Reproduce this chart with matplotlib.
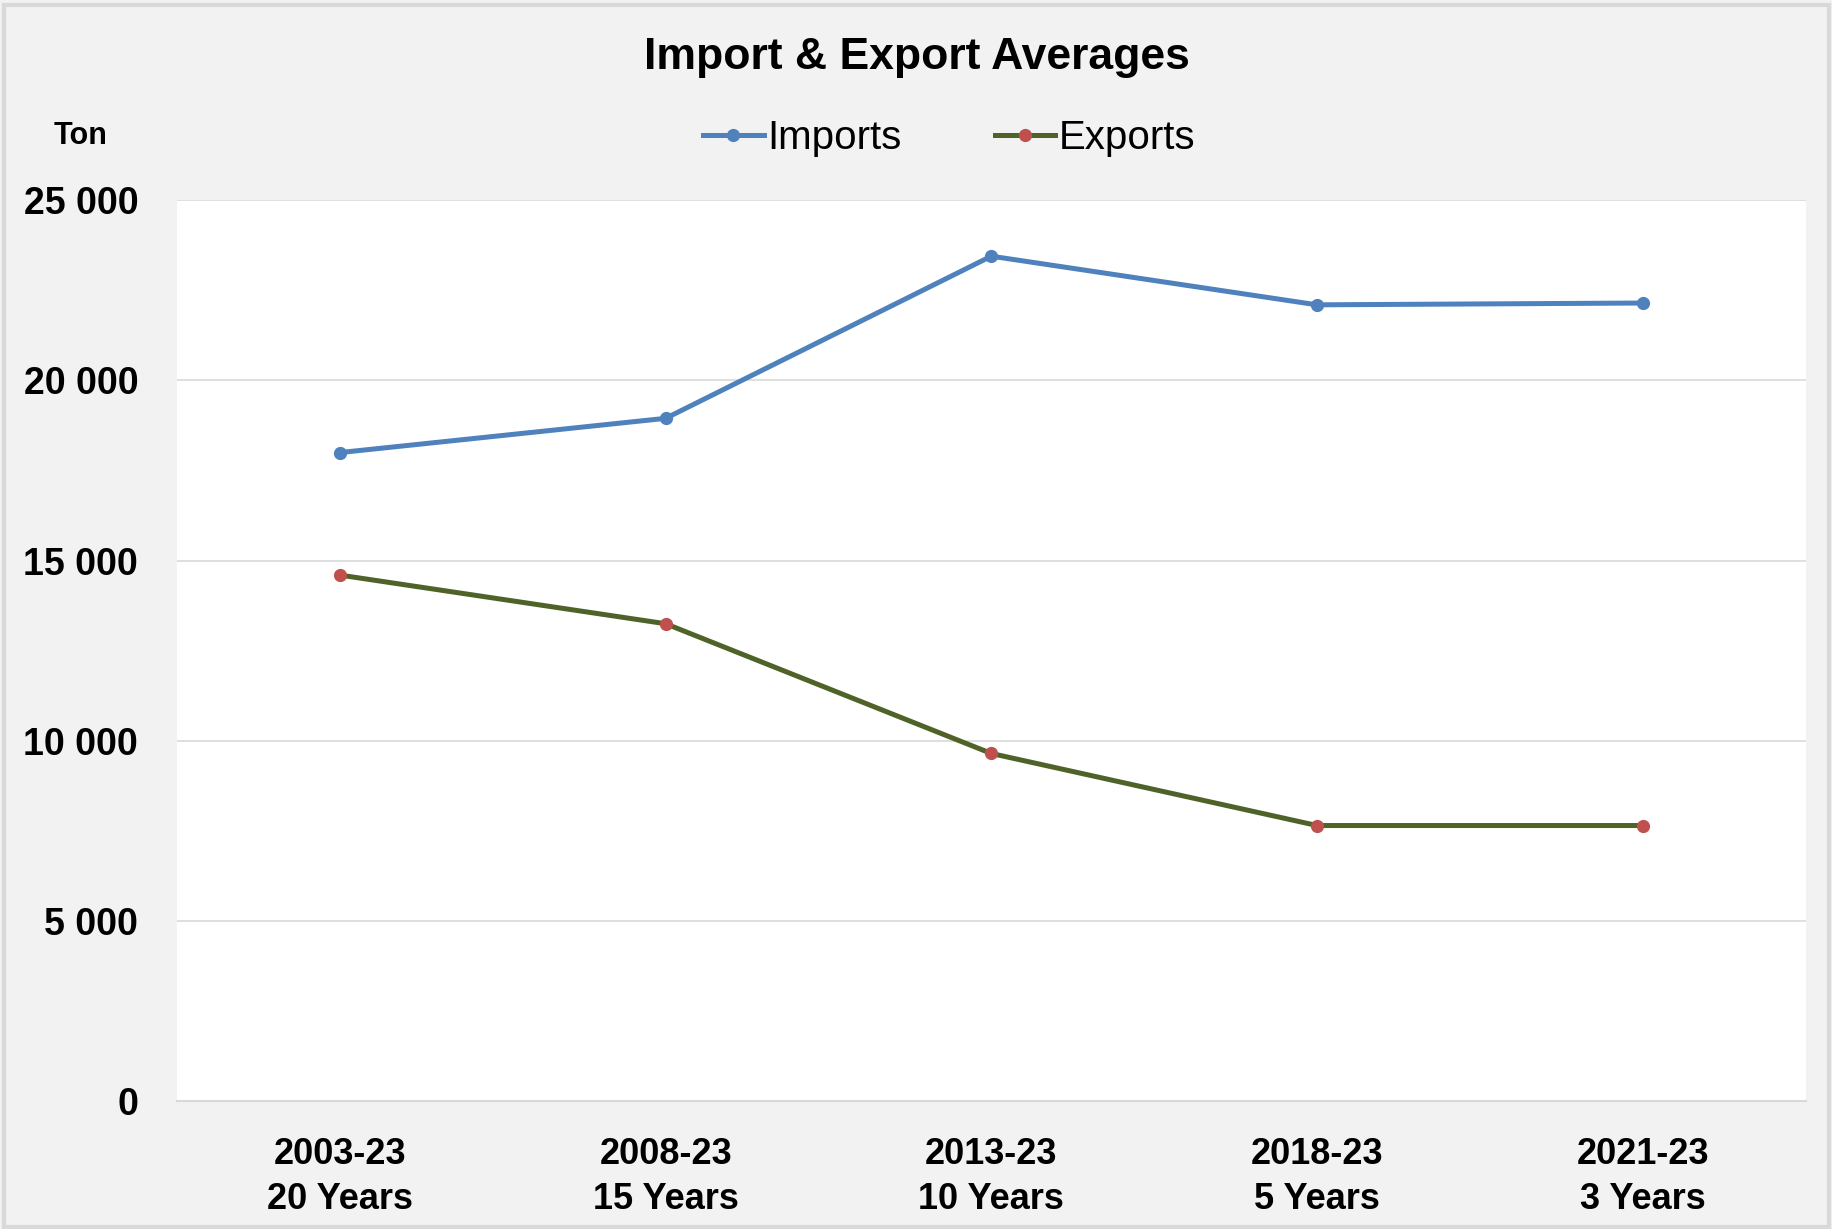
import matplotlib.pyplot as plt
from matplotlib.ticker import FuncFormatter

periods = ['2003-23\n20 Years', '2008-23\n15 Years', '2013-23\n10 Years',
           '2018-23\n5 Years', '2021-23\n3 Years']
imports = [18000, 18950, 23450, 22100, 22150]
exports = [14600, 13250, 9650, 7650, 7650]

plt.rcParams['font.family'] = ['Liberation Sans Narrow', 'Liberation Sans', 'DejaVu Sans']

fig = plt.figure(figsize=(18.33, 12.29), dpi=100, facecolor='#f2f2f2')
ax = fig.add_axes([0.0966, 0.104, 0.8884, 0.733])
ax.set_facecolor('white')

x = range(len(periods))
ax.plot(x, imports, color='#4f81bd', lw=3.6, marker='o', ms=8.5,
        mfc='#4f81bd', mec='#4f81bd', label='Imports')
ax.plot(x, exports, color='#4f6228', lw=3.6, marker='o', ms=8.5,
        mfc='#c0504d', mec='#c0504d', label='Exports')

ax.set_xlim(-0.5, len(periods) - 0.5)
ax.set_ylim(0, 25000)
ax.set_yticks(range(0, 25001, 5000))
ax.yaxis.set_major_formatter(FuncFormatter(
    lambda v, p: '{:,.0f}'.format(v).replace(',', ' ')))
ax.set_xticks(list(x))
ax.set_xticklabels(periods, fontsize=26, fontweight='bold', linespacing=1.35)
for t in ax.get_yticklabels():
    t.set_fontsize(27)
    t.set_fontweight('bold')
ax.tick_params(axis='both', length=0)
ax.tick_params(axis='x', pad=26)
ax.tick_params(axis='y', pad=28)

ax.grid(axis='y', color='#d9d9d9', lw=1.2)
ax.set_axisbelow(True)
for s in ['top', 'right', 'left']:
    ax.spines[s].set_visible(False)
ax.spines['bottom'].set_color('#d9d9d9')
ax.spines['bottom'].set_linewidth(1.5)

fig.text(0.5, 0.953, 'Import & Export Averages', ha='center', va='center',
         fontsize=32, fontweight='bold')
fig.text(0.044, 0.889, 'Ton', ha='center', va='center', fontsize=22,
         fontweight='bold')
fig.legend(loc='center', bbox_to_anchor=(0.518, 0.888), ncol=2, frameon=False,
           fontsize=29, handlelength=1.5, handletextpad=0.1, columnspacing=2.3)

fig.patches.append(plt.Rectangle((0.002, 0.002), 0.996, 0.994, transform=fig.transFigure,
                                 fill=False, edgecolor='#d9d9d9', lw=3))

fig.savefig('out.png', dpi=100, facecolor=fig.get_facecolor())
